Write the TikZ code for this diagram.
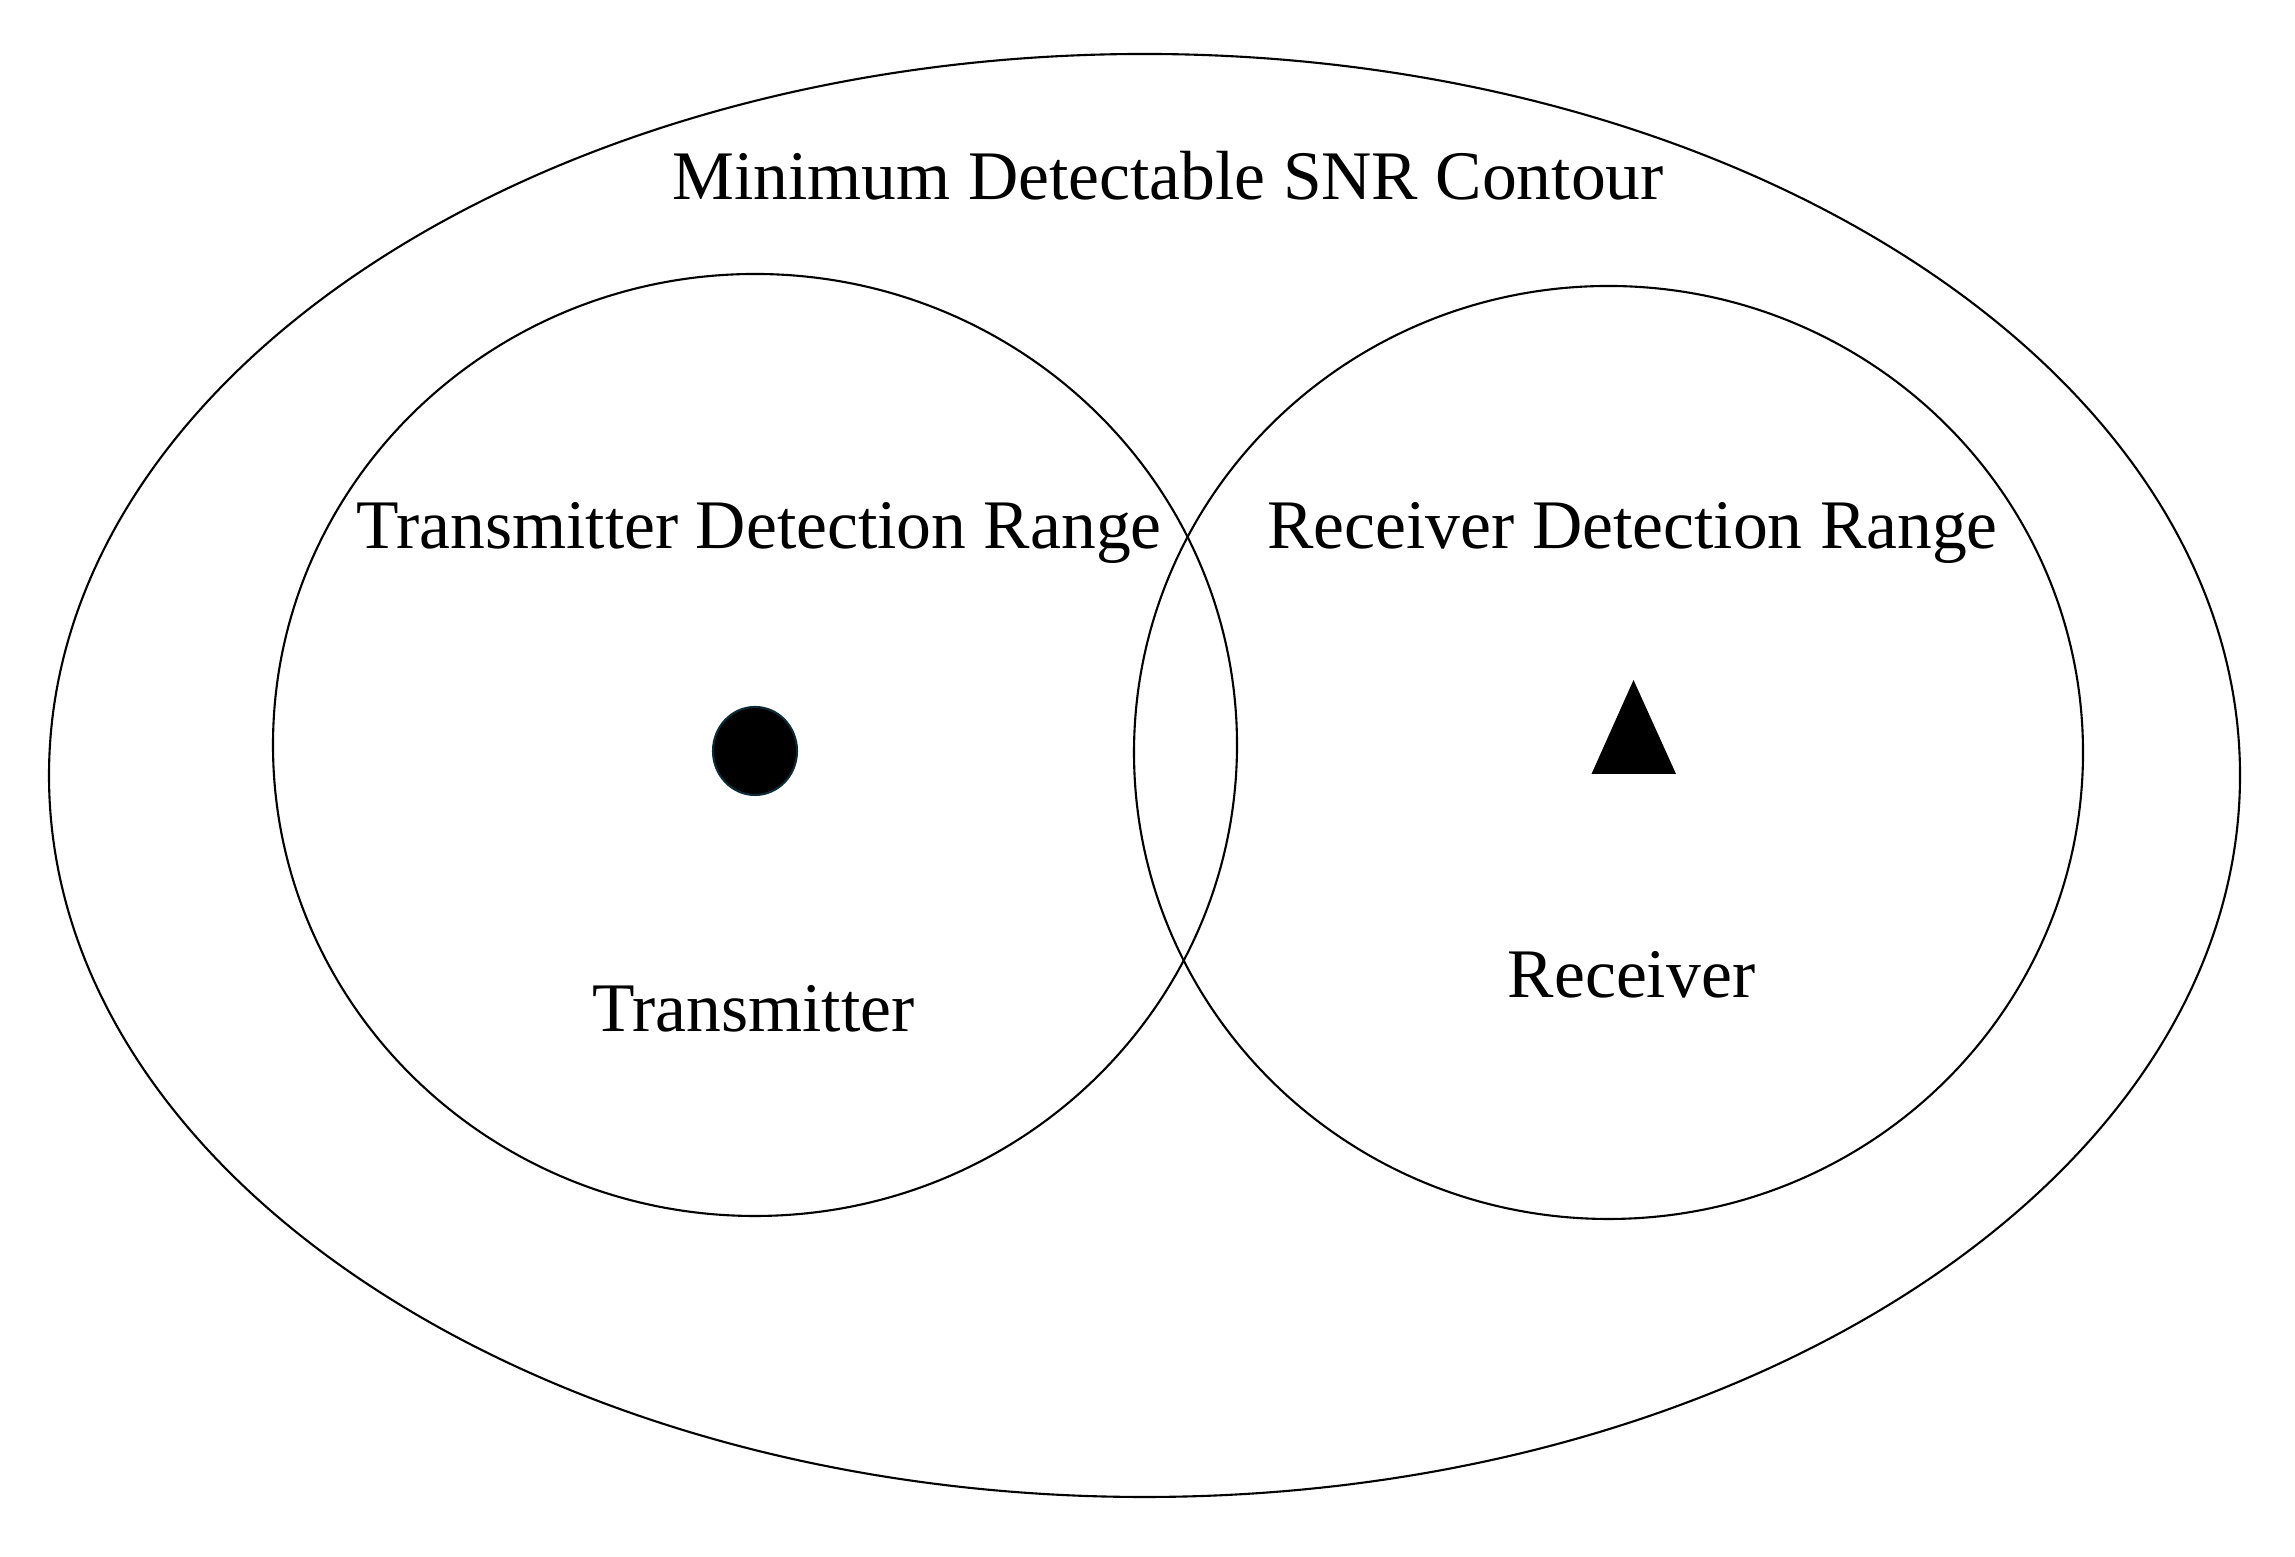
\documentclass[tikz,border=0pt]{standalone}
\usepackage{fontspec}
\setmainfont{Liberation Serif}
\usepackage{tikz}
\usetikzlibrary{arrows.meta}
\usetikzlibrary{shapes}
\definecolor{dotedge}{HTML}{0B2A36}

\begin{document}
\begin{tikzpicture}[line width=0.6pt, label/.style={anchor=base, inner sep=0pt, font=\fontsize{19.8}{24}\selectfont}]

    \useasboundingbox (0, 0) rectangle (22.95, 15.57);

    % ranges
    \draw (11.445, 7.815) ellipse (10.955 and 7.215);
    \draw (7.55, 8.12) ellipse (4.82 and 4.71);
    \draw (16.085, 8.045) ellipse (4.745 and 4.665);

    % transmitter and receiver marks
    \fill[black, draw=dotedge] (7.55, 8.06) ellipse (0.42 and 0.44);
    \fill[black] (16.335, 8.77) -- (16.76, 7.83) -- (15.915, 7.83) -- cycle;

    \node[label] (snr) at (11.68, 13.57) {Minimum Detectable SNR Contour};
    \node[label] (txrange) at (7.59, 10.08) {Transmitter Detection Range};
    \node[label] (rxrange) at (16.325, 10.08) {Receiver Detection Range};
    \node[label] (tx) at (7.535, 5.25) {Transmitter};
    \node[label] (rx) at (16.315, 5.59) {Receiver};

\end{tikzpicture}
\end{document}
